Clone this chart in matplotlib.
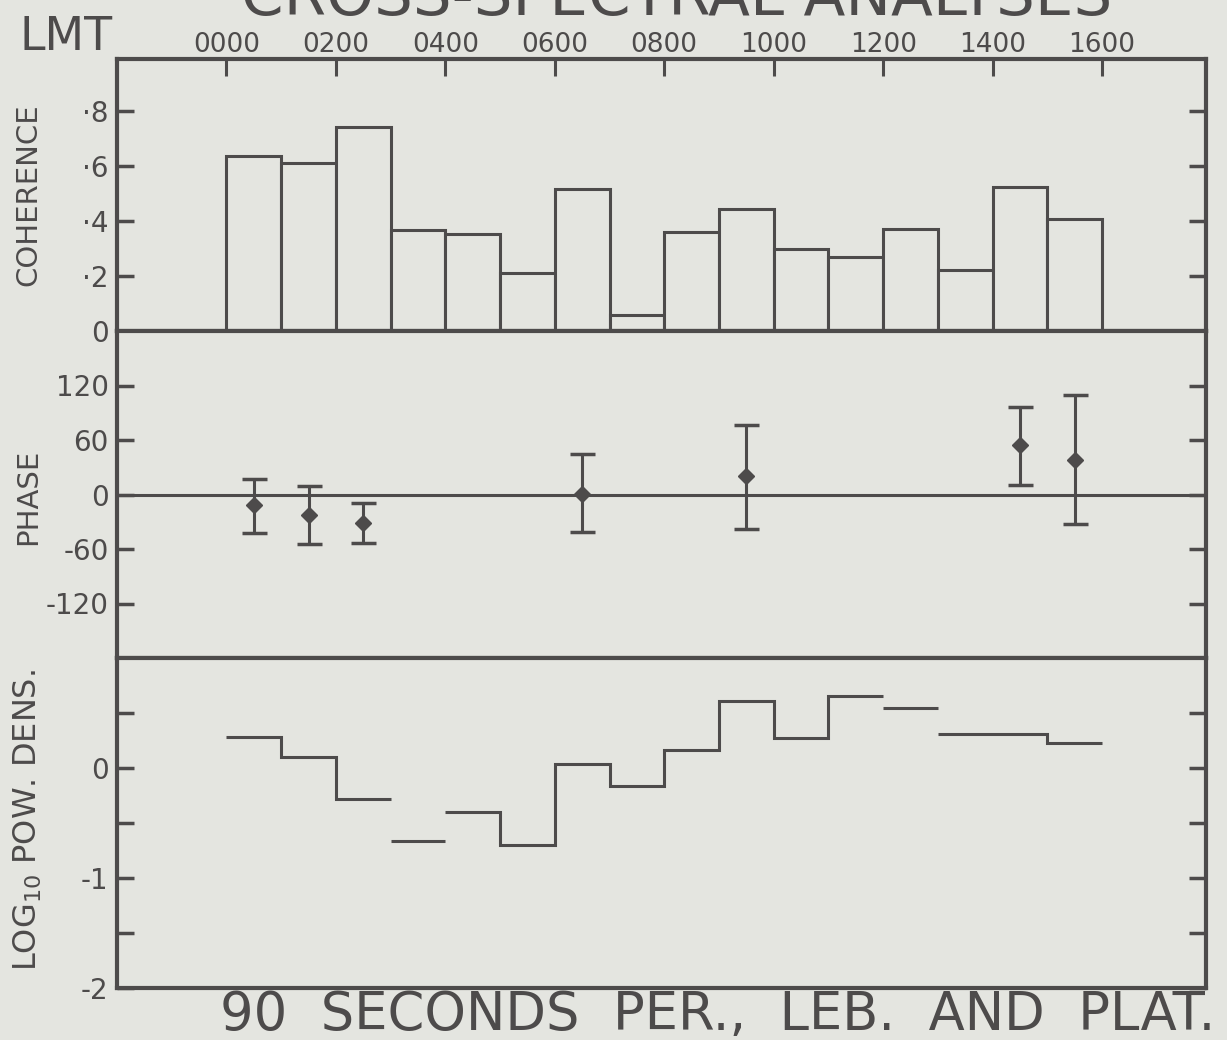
import matplotlib
matplotlib.use("Agg")
import matplotlib.pyplot as plt
import numpy as np

# ---------------- data ----------------
hours = list(range(16))                     # hour bins 00..15 (LMT)
hour_tick_labels = ["0000", "0200", "0400", "0600", "0800", "1000", "1200", "1400", "1600"]
hour_ticks = [0, 2, 4, 6, 8, 10, 12, 14, 16]

coherence = [0.637, 0.613, 0.741, 0.366, 0.353, 0.211, 0.516, 0.058,
             0.360, 0.445, 0.300, 0.268, 0.373, 0.223, 0.525, 0.406]

phase_hours = [0.5, 1.5, 2.5, 6.5, 9.5, 14.5, 15.5]
phase_vals  = [-12, -23, -31, 1, 20, 54, 38]
phase_upper = [17, 9, -9, 45, 76, 96, 109]
phase_lower = [-42, -54, -53, -41, -38, 11, -32]

logpow = [0.28, 0.10, -0.28, -0.66, -0.40, -0.70, 0.04, -0.16,
          0.16, 0.61, 0.27, 0.655, 0.55, 0.31, 0.31, 0.23]
# hour boundaries where the step trace is not joined by a riser
logpow_breaks = [3, 4, 12, 13]

coh_ticks = [0, 0.2, 0.4, 0.6, 0.8]
coh_labels = ["0", "·2", "·4", "·6", "·8"]
phase_ticks = [-120, -60, 0, 60, 120]
phase_labels = ["-120", "-60", "0", "60", "120"]
log_ticks = [-2, -1.5, -1, -0.5, 0, 0.5]
log_labels = ["-2", "", "-1", "", "0", ""]

# ---------------- style ----------------
BG = "#e4e5e0"
INK = "#4d4b4b"
plt.rcParams['font.family'] = ['DejaVu Sans']

fig = plt.figure(figsize=(12.27, 10.40), dpi=100, facecolor=BG)

L, R = 117 / 1227, 1206 / 1227
def ycoord(px):
    return 1 - px / 1040

y_top, y_c, y_p, y_b = ycoord(59), ycoord(331), ycoord(658), ycoord(988)
ax1 = fig.add_axes([L, y_c, R - L, y_top - y_c])
ax2 = fig.add_axes([L, y_p, R - L, y_c - y_p])
ax3 = fig.add_axes([L, y_b, R - L, y_p - y_b])

XMIN, XMAX = -2.0, 17.9
for ax in (ax1, ax2, ax3):
    ax.set_facecolor(BG)
    ax.set_xlim(XMIN, XMAX)
    for s in ax.spines.values():
        s.set_color(INK)
        s.set_linewidth(3)
    ax.tick_params(axis='y', which='both', direction='in', length=12, width=2.5,
                   color=INK, labelcolor=INK, labelsize=20, left=True, right=True,
                   pad=6)
    ax.set_xticks([])

# ---- coherence ----
ax1.bar(np.array(hours) + 0.5, coherence, width=1.0, facecolor=BG,
        edgecolor=INK, linewidth=2.2)
ax1.set_ylim(0, 0.99)
ax1.set_yticks(coh_ticks)
ax1.set_yticklabels(coh_labels)
ax1.xaxis.tick_top()
ax1.set_xticks(hour_ticks)
ax1.set_xticklabels(hour_tick_labels)
ax1.tick_params(axis='x', direction='in', length=12, width=2.2, color=INK,
                labelcolor=INK, labelsize=19, pad=1, top=True, bottom=False)

# ---- phase ----
ax2.axhline(0, color=INK, linewidth=2.2)
pv = np.array(phase_vals)
yerr = [pv - np.array(phase_lower), np.array(phase_upper) - pv]
ax2.errorbar(phase_hours, phase_vals, yerr=yerr, fmt='D', color=INK,
             markersize=8, elinewidth=2.2, capsize=9, capthick=2.5)
ax2.set_ylim(-180, 180)
ax2.set_yticks(phase_ticks)
ax2.set_yticklabels(phase_labels)

# ---- log power density (step trace) ----
edges = [0] + sorted(logpow_breaks) + [len(logpow)]
for a, b in zip(edges[:-1], edges[1:]):
    ax3.stairs(logpow[a:b], np.arange(a, b + 1), baseline=None,
               color=INK, linewidth=2.2)
ax3.set_ylim(-2, 1)
ax3.set_yticks(log_ticks)
ax3.set_yticklabels(log_labels)

# ---- text ----
fig.text(28 / 1227, ycoord(195), "COHERENCE", rotation=90, ha='center',
         va='center', fontsize=21, color=INK)
fig.text(28 / 1227, ycoord(497), "PHASE", rotation=90, ha='center',
         va='center', fontsize=21, color=INK)
fig.text(28 / 1227, ycoord(820), r"LOG$_{10}$ POW. DENS.", rotation=90,
         ha='center', va='center', fontsize=23, color=INK)

fig.text(20 / 1227, ycoord(37), "LMT", ha='left', va='center',
         fontsize=33, color=INK)
fig.text(677 / 1227, ycoord(28), "CROSS-SPECTRAL ANALYSES", ha='center',
         va='bottom', fontsize=44, color=INK)
fig.text(220 / 1227, ycoord(1015), "90  SECONDS  PER.,  LEB.  AND  PLAT.",
         ha='left', va='center', fontsize=38, color=INK)

fig.savefig("out.png", dpi=100, facecolor=BG)
